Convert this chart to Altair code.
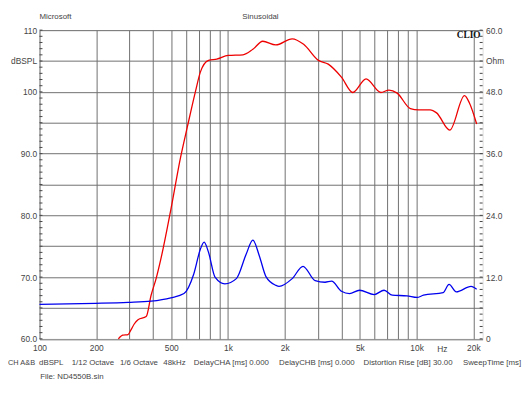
import altair as alt
import pandas as pd

# ---- data ----
spl_freq = [262, 276, 295, 305, 318, 333, 368, 391, 415, 440, 497, 560, 607, 671, 713, 788,
            871, 1002, 1200, 1354, 1527, 1792, 2189, 2517, 3015, 3400, 3993, 4590, 5396,
            6461, 7139, 7888, 9268, 10240, 11790, 12770, 15000, 17960, 19070, 20830]
spl_db = [60.0, 60.6, 60.7, 61.4, 62.4, 63.1, 63.6, 67.1, 69.7, 72.9, 80.9, 89.4, 94.2, 100.0,
          103.2, 105.1, 105.3, 105.9, 106.0, 106.9, 108.2, 107.6, 108.6, 107.7, 105.1, 104.5,
          102.4, 99.9, 102.1, 99.9, 100.3, 99.8, 97.3, 97.1, 97.1, 96.6, 93.8, 99.4, 98.2, 94.8]

imp_freq = [100, 198, 295, 391, 497, 584, 658, 713, 747, 788, 853, 962, 1107, 1249, 1354,
            1466, 1589, 1792, 1864, 2189, 2498, 2898, 3268, 3540, 3993, 4411, 4978, 5960,
            6725, 7430, 8896, 10040, 10880, 13840, 14870, 16240, 19450, 20830]
imp_ohm = [6.70, 6.89, 7.08, 7.33, 7.98, 8.80, 12.6, 17.4, 18.8, 16.8, 12.0, 10.7, 11.7, 16.5,
           19.2, 16.1, 12.1, 10.4, 10.2, 11.7, 14.1, 11.3, 11.0, 11.2, 9.24, 8.80, 9.44, 8.61,
           9.44, 8.48, 8.36, 8.04, 8.48, 9.0, 10.6, 9.13, 10.2, 9.63]

grid_freqs = [100, 200, 300, 400, 500, 600, 700, 800, 900, 1000, 2000, 3000, 4000, 5000,
              6000, 7000, 8000, 9000, 10000, 20000]
x_label_map = {100: "100", 200: "200", 500: "500", 1000: "1k", 2000: "2k", 5000: "5k",
               10000: "10k", 20000: "20k"}
db_ticks = [60, 65, 70, 75, 80, 85, 90, 95, 100, 105, 110]
db_label_map = {110: "110", 105: "dBSPL", 100: "100", 90: "90.0", 80: "80.0", 70: "70.0", 60: "60.0"}
ohm_ticks = [0, 6, 12, 18, 24, 30, 36, 42, 48, 54, 60]
ohm_label_map = {60: "60.0", 54: "Ohm", 48: "48.0", 36: "36.0", 24: "24.0", 12: "12.0", 0: "0"}
minor_ticks = list(range(60, 111))

info_texts = ["CH A&B", "dBSPL", "1/12 Octave", "1/6 Octave", "48kHz", "DelayCHA [ms] 0.000",
              "DelayCHB [ms] 0.000", "Distortion Rise [dB] 30.00", "SweepTime [ms]"]
info_x = [-32, -0.5, 32.7, 81.7, 125.7, 156.7, 243.3, 329, 430]

W, H = 450, 313.5
FONT = "Liberation Sans"
LABEL_COLOR = "#444444"


def label_expr(m):
    parts = " : ".join(f"datum.value == {k} ? '{v}'" for k, v in m.items())
    return parts + " : ''"


spl_df = pd.DataFrame({"f": spl_freq, "v": spl_db})
imp_df = pd.DataFrame({"f": imp_freq, "v": imp_ohm})
tick_df = pd.DataFrame({"v": minor_ticks})

xscale = alt.Scale(type="log", domain=[100, 22400], nice=False)
dbscale = alt.Scale(domain=[60, 110], nice=False, zero=False)
ohmscale = alt.Scale(domain=[0, 60], nice=False)

x_axis = alt.Axis(
    values=grid_freqs, labelExpr=label_expr(x_label_map), title=None, grid=True,
    gridColor="#707070", gridWidth=1, gridOpacity=1, ticks=False, domain=False,
    labelPadding=5, labelFontSize=8.5, labelFont=FONT, labelColor=LABEL_COLOR,
    labelOverlap=False, labelFlush=False, orient="bottom")

red = alt.Chart(spl_df).mark_line(color="#ee0000", strokeWidth=1.3, interpolate="monotone").encode(
    x=alt.X("f:Q", scale=xscale, axis=x_axis),
    y=alt.Y("v:Q", scale=dbscale, axis=alt.Axis(
        values=db_ticks, labelExpr=label_expr(db_label_map), title=None, grid=True,
        gridColor="#707070", gridWidth=1, gridOpacity=1, ticks=False, domain=False,
        labelPadding=3, labelFontSize=8.5, labelFont=FONT, labelColor=LABEL_COLOR,
        labelOverlap=False, labelFlush=False, orient="left")),
)

blue = alt.Chart(imp_df).mark_line(color="#0000ee", strokeWidth=1.3, interpolate="monotone").encode(
    x=alt.X("f:Q", scale=xscale, axis=x_axis),
    y=alt.Y("v:Q", scale=ohmscale, axis=alt.Axis(
        values=ohm_ticks, labelExpr=label_expr(ohm_label_map), title=None, grid=False,
        ticks=False, domain=False, labelPadding=3, labelFontSize=8.5, labelFont=FONT,
        labelColor=LABEL_COLOR, labelOverlap=False, labelFlush=False, orient="right",
        labelAlign="left")),
)

left_ticks = alt.Chart(tick_df).mark_rule(color="#444444", strokeWidth=1).encode(
    x=alt.value(0), x2=alt.value(3),
    y=alt.Y("v:Q", scale=dbscale, axis=None))
right_ticks = alt.Chart(tick_df).mark_rule(color="#444444", strokeWidth=1).encode(
    x=alt.value(W - 3), x2=alt.value(W),
    y=alt.Y("v:Q", scale=dbscale, axis=None))


def txt(t, x, y, align="left", size=8, weight="normal", font=FONT, color="#444444"):
    return alt.Chart(pd.DataFrame({"t": [t]})).mark_text(
        align=align, baseline="middle", fontSize=size, fontWeight=weight, font=font,
        color=color).encode(text="t:N", x=alt.value(x), y=alt.value(y))


texts = [
    txt("Microsoft", 0, -13.5),
    txt("Sinusoidal", 206, -13.5),
    txt("CLIO", 448, 4.5, align="right", size=9.5, weight="bold", font="Liberation Serif",
        color="#111111"),
    txt("Hz", 409, 323.5, align="center", size=8.5),
    txt("File: ND4550B.sin", 0.7, 352),
]
for i, (t, x) in enumerate(zip(info_texts, info_x)):
    texts.append(txt(t, x, 338, size=7.5 if i == 0 else 8))

chart = alt.layer(red, blue, left_ticks, right_ticks, *texts).resolve_scale(
    y="independent"
).properties(
    width=W, height=H,
    autosize=alt.AutoSizeParams(type="none"),
    padding={"left": 32, "top": 19.5, "right": 40, "bottom": 50},
).configure_view(
    stroke="#333333", strokeWidth=1.8
).configure(background="white")

chart.save("out.html", embed_options={"renderer": "svg", "actions": False})
